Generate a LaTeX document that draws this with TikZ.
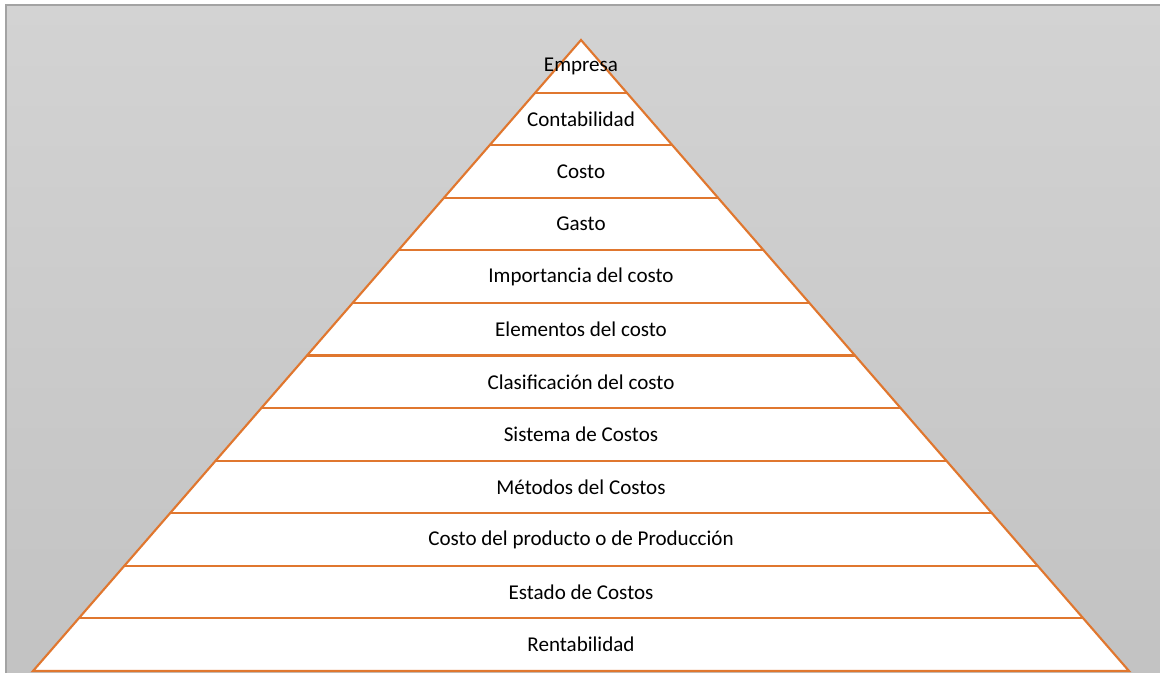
\documentclass[tikz,border=0pt]{standalone}
\usepackage{fontspec}
\setmainfont{Carlito}
\definecolor{bgtop}{HTML}{D3D3D3}
\definecolor{bgbot}{HTML}{C2C2C2}
\definecolor{framecol}{HTML}{A3A3A3}
\definecolor{pyrorange}{HTML}{E0772F}
\tikzset{
  pyrline/.style={draw=pyrorange,line width=1.6pt},
  bandlabel/.style={font=\fontsize{15.8}{19}\selectfont,text=black,inner sep=0pt,anchor=center}
}
\begin{document}
\begin{tikzpicture}[x=0.75pt,y=-0.75pt]
\useasboundingbox (0,0) rectangle (1160,672);
\clip (0,0) rectangle (1160,672);
\shade[top color=bgtop,bottom color=bgbot] (6,5) rectangle (1170,690);
\draw[framecol,line width=1.3pt] (6,690) -- (6,5) -- (1170,5);
\coordinate (apex) at (581,40);
\coordinate (bl) at (33,671);
\coordinate (br) at (1129,671);
\fill[white] (apex) -- (bl) -- (br) -- cycle;
\foreach \i in {1,...,11}{
  \pgfmathsetmacro{\yy}{40+\i*52.583}
  \pgfmathsetmacro{\hw}{\i*52.583*0.8685}
  \coordinate (l\i) at ({581-\hw},\yy);
  \coordinate (r\i) at ({581+\hw},\yy);
  \draw[pyrline] (l\i) -- (r\i);
}
\draw[pyrline,line join=miter] (apex) -- (bl) -- (br) -- cycle;
\foreach \t [count=\i] in {Empresa,Contabilidad,Costo,Gasto,Importancia del costo,Elementos del costo,Clasificación del costo,Sistema de Costos,Métodos del Costos,Costo del producto o de Producción,Estado de Costos,Rentabilidad}{
  \node[bandlabel] (t\i) at (581,{40+(\i-0.5)*52.583}) {\t};
}
\end{tikzpicture}
\end{document}
